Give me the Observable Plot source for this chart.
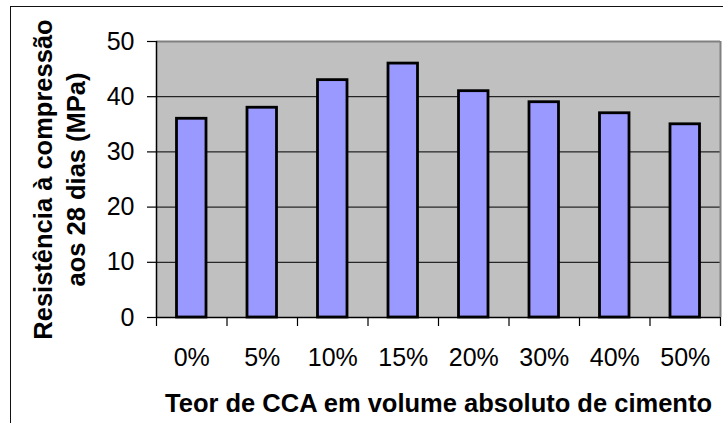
<!DOCTYPE html>
<html><head><meta charset="utf-8">
<script src="https://cdn.jsdelivr.net/npm/d3@7"></script>
<script src="https://cdn.jsdelivr.net/npm/@observablehq/plot@0.6"></script>
<style>
html,body{margin:0;padding:0;background:#fff;overflow:hidden;}
#wrap{position:relative;width:723px;height:423px;overflow:hidden;}
#border{position:absolute;left:10px;top:6px;width:800px;height:600px;border:1.5px solid #111;box-sizing:border-box;}
#chart{position:absolute;left:0;top:0;}
#chart svg, #chart text{font-family:'Liberation Sans', Arial, sans-serif !important;}
</style></head><body>
<div id="wrap"><div id="border"></div><div id="chart"></div></div>
<script>
const categories = ["0%","5%","10%","15%","20%","30%","40%","50%"];
const values = [36,38,43,46,41,39,37,35];
const yTicks = [0,10,20,30,40,50];
const yTitle = "Resistência à compressão\naos 28 dias (MPa)";
const xTitle = "Teor de CCA em volume absoluto de cimento";

const data = categories.map((c,i)=>({c, i, v: values[i]}));
const n = categories.length;
const font = "Liberation Sans";
const chart = Plot.plot({
  width:723, height:423,
  marginLeft:156, marginRight:3, marginTop:41, marginBottom:106,
  style:{background:"transparent", color:"#000", overflow:"visible"},
  x:{domain:[0,n], axis:null},
  y:{domain:[0,50], axis:null},
  marks:[
    Plot.frame({fill:"#c0c0c0", stroke:null}),
    Plot.ruleY(yTicks.slice(1,-1), {stroke:"#000", strokeWidth:1}),
    Plot.ruleY([yTicks[yTicks.length-1]], {stroke:"#808080", strokeWidth:2}),
    Plot.ruleX([n], {stroke:"#808080", strokeWidth:2}),
    Plot.rectY(data, {x1:"i", x2: d=>d.i+1, y:"v", insetLeft:20.5, insetRight:20.5, fill:"#9999ff", stroke:"#000", strokeWidth:2.8}),
    Plot.ruleX([0], {stroke:"#000", strokeWidth:1.5}),
    Plot.ruleY([0], {stroke:"#000", strokeWidth:1.5}),
    Plot.axisY({ticks: yTicks, label:null, tickSize:9, tickPadding:13, fontSize:25, fontFamily:font, stroke:"#000", strokeWidth:1.2}),
    Plot.axisX({ticks: d3.range(n+1), label:null, tickSize:9, tickFormat: () => "", stroke:"#000", strokeWidth:1.2}),
    Plot.axisX({ticks: d3.range(n).map(i=>i+0.5), label:null, tickSize:0, tickPadding:31, fontSize:25, fontFamily:font, tickFormat: t => categories[Math.floor(t)]}),
    Plot.text([yTitle], {frameAnchor:"left", rotate:-90, dx:-99, fontSize:25.5, fontFamily:font, fontWeight:"bold", lineHeight:1.3, textAnchor:"middle", lineAnchor:"middle", fill:"#000"}),
    Plot.text([xTitle], {frameAnchor:"bottom", dy:86, fontSize:25.5, fontFamily:font, fontWeight:"bold", lineAnchor:"middle", fill:"#000"})
  ]
});
document.getElementById("chart").appendChild(chart);
</script>
</body></html>
